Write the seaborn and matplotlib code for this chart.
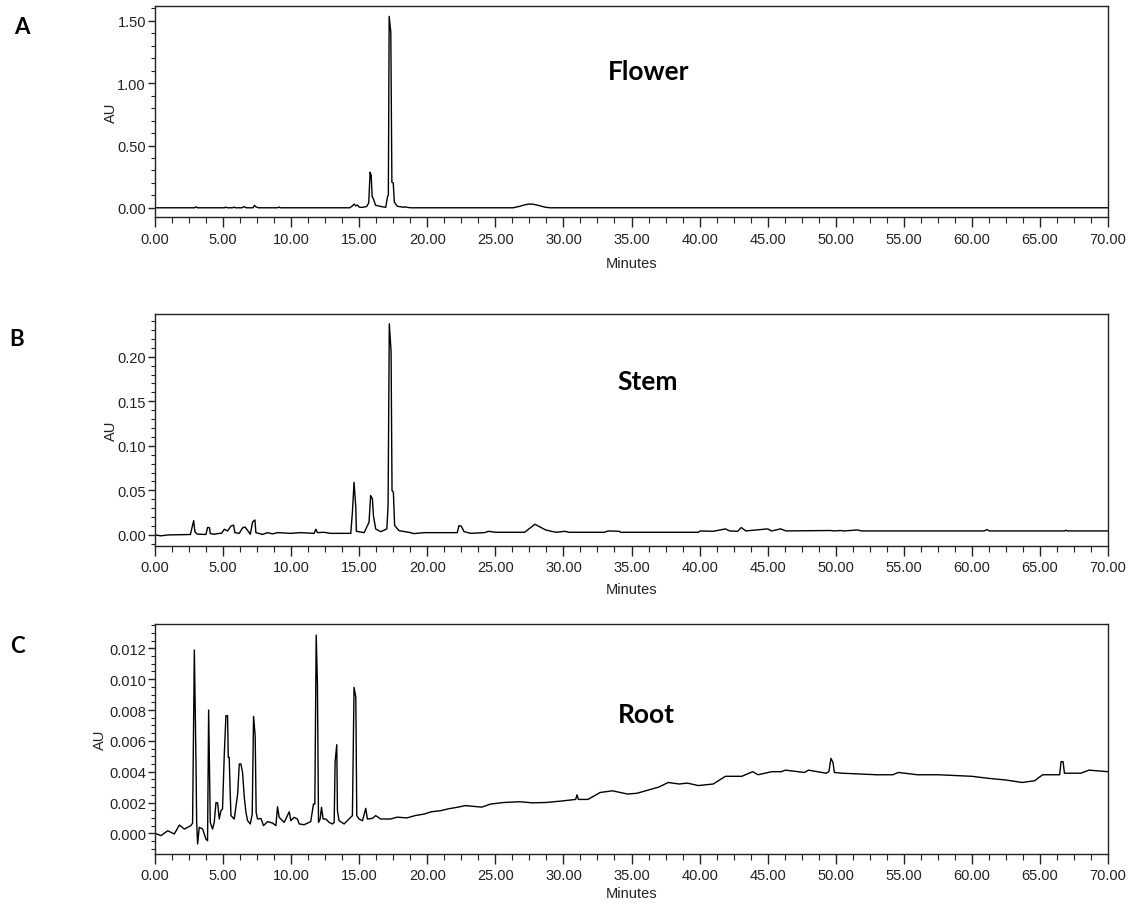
import matplotlib
matplotlib.use("Agg")
import matplotlib.pyplot as plt
from matplotlib.ticker import MultipleLocator, FormatStrFormatter
import seaborn as sns
import pandas as pd

# ---------------- data: (minutes, AU) ----------------
flower = [(0.0, 0.0), (2.9, 0.0), (3.0, 0.008), (3.1, 0.0), (5.1, 0.0), (5.2, 0.006), (5.3, 0.0),
          (5.7, 0.0), (5.8, 0.006), (5.9, 0.0), (6.4, 0.0), (6.55, 0.01), (6.7, 0.0), (7.2, 0.0),
          (7.3, 0.019), (7.4, 0.008), (7.6, 0.0), (9.0, 0.0), (9.1, 0.006), (9.2, 0.0), (14.3, 0.0),
          (14.5, 0.015), (14.63, 0.03), (14.75, 0.015), (14.87, 0.022), (15.0, 0.005), (15.2, 0.003),
          (15.55, 0.01), (15.7, 0.04), (15.8, 0.286), (15.88, 0.26), (15.95, 0.09), (16.05, 0.07),
          (16.2, 0.02), (16.6, 0.01), (16.95, 0.004), (17.08, 0.09), (17.14, 0.1), (17.2, 1.537),
          (17.32, 1.409), (17.4, 0.205), (17.5, 0.2), (17.58, 0.045), (17.8, 0.012), (18.3, 0.004),
          (18.4, 0.008), (18.55, 0.003), (18.8, 0.0), (26.3, 0.0), (26.8, 0.012), (27.2, 0.025),
          (27.5, 0.03), (27.8, 0.028), (28.2, 0.018), (28.6, 0.006), (29.0, 0.0), (70.0, 0.0)]

stem = [(0.0, 0.0), (0.44, -0.001), (0.93, 0.0), (2.6, 0.0005), (2.84, 0.0161), (2.93, 0.0037),
        (3.08, 0.001), (3.74, 0.0005), (3.86, 0.0083), (4.0, 0.0083), (4.06, 0.0015), (4.35, 0.0008),
        (4.6, 0.0015), (4.9, 0.002), (5.09, 0.0064), (5.33, 0.0045), (5.58, 0.010), (5.77, 0.011),
        (5.87, 0.0026), (6.19, 0.0018), (6.43, 0.0079), (6.6, 0.009), (6.8, 0.0052), (7.0, 0.0008),
        (7.17, 0.0146), (7.34, 0.0168), (7.41, 0.0026), (7.9, 0.0006), (8.27, 0.0026), (8.63, 0.0012),
        (9.0, 0.0026), (9.98, 0.0018), (10.7, 0.0026), (11.69, 0.0018), (11.81, 0.0064), (11.93, 0.0026),
        (12.4, 0.003), (12.9, 0.0018), (14.38, 0.0018), (14.5, 0.0255), (14.62, 0.0591), (14.75, 0.031),
        (14.79, 0.0041), (15.36, 0.0026), (15.72, 0.0142), (15.84, 0.0442), (15.97, 0.0405),
        (16.04, 0.0221), (16.21, 0.0067), (16.58, 0.0037), (17.03, 0.0067), (17.12, 0.033),
        (17.21, 0.237), (17.34, 0.206), (17.41, 0.0498), (17.51, 0.048), (17.6, 0.0106),
        (17.93, 0.0048), (18.78, 0.0026), (19.02, 0.0015), (19.76, 0.0026), (22.2, 0.0026),
        (22.33, 0.0105), (22.5, 0.0098), (22.7, 0.0037), (23.2, 0.0018), (24.2, 0.0026),
        (24.5, 0.0041), (25.0, 0.003), (27.15, 0.003), (27.9, 0.012), (28.7, 0.0056), (29.45, 0.003),
        (30.1, 0.0041), (30.4, 0.003), (33.0, 0.003), (33.3, 0.0045), (34.1, 0.0041), (34.2, 0.003),
        (39.9, 0.003), (40.05, 0.0045), (41.0, 0.0041), (41.9, 0.0068), (42.2, 0.0045), (42.8, 0.0041),
        (43.06, 0.0083), (43.4, 0.0045), (45.0, 0.0068), (45.3, 0.0045), (45.95, 0.0068),
        (46.35, 0.0045), (49.6, 0.005), (49.9, 0.0045), (50.35, 0.005), (50.6, 0.0045), (51.6, 0.0056),
        (51.9, 0.0045), (60.9, 0.0045), (61.1, 0.006), (61.3, 0.0045), (66.8, 0.0045), (66.9, 0.0053),
        (67.0, 0.0045), (70.0, 0.0045)]

root = [(0.0, 0.0), (0.44, -0.00015), (0.93, 0.00017), (1.42, -0.00004), (1.79, 0.00054),
        (2.15, 0.00028), (2.4, 0.00039), (2.64, 0.0005), (2.76, 0.00067), (2.89, 0.0119),
        (3.01, 0.00465), (3.06, 0.00071), (3.13, -0.00069), (3.25, 0.00039), (3.5, 0.00028),
        (3.74, -0.00037), (3.86, -0.00048), (3.94, 0.0080), (4.06, 0.00071), (4.23, 0.00028),
        (4.35, 0.00071), (4.48, 0.002), (4.6, 0.00197), (4.72, 0.00093), (4.84, 0.00147),
        (4.96, 0.00158), (5.09, 0.00515), (5.21, 0.00763), (5.33, 0.00763), (5.38, 0.00493),
        (5.45, 0.00493), (5.53, 0.00244), (5.58, 0.00115), (5.82, 0.00093), (6.07, 0.00255),
        (6.19, 0.0045), (6.31, 0.0045), (6.43, 0.00396), (6.56, 0.00233), (6.68, 0.00136),
        (6.8, 0.00082), (7.0, 0.00061), (7.14, 0.00125), (7.24, 0.00759), (7.36, 0.00629),
        (7.43, 0.00136), (7.53, 0.00093), (7.78, 0.00097), (7.97, 0.0005), (8.27, 0.00076),
        (8.63, 0.00067), (8.88, 0.0005), (9.0, 0.00173), (9.12, 0.00104), (9.49, 0.00071),
        (9.86, 0.0014), (9.98, 0.00082), (10.22, 0.00104), (10.46, 0.00093), (10.59, 0.00061),
        (10.95, 0.00056), (11.44, 0.00076), (11.64, 0.0019), (11.74, 0.0019), (11.84, 0.01286),
        (11.93, 0.00969), (12.01, 0.00071), (12.13, 0.00093), (12.23, 0.00169), (12.35, 0.00093),
        (12.55, 0.00093), (12.79, 0.00071), (13.04, 0.00061), (13.16, 0.00071), (13.23, 0.00465),
        (13.35, 0.00575), (13.4, 0.00147), (13.52, 0.00082), (13.89, 0.00061), (14.13, 0.00082),
        (14.5, 0.00115), (14.62, 0.00947), (14.75, 0.00882), (14.82, 0.00115), (14.99, 0.00093),
        (15.24, 0.00082), (15.48, 0.00162), (15.6, 0.00093), (15.97, 0.00097), (16.21, 0.00115),
        (16.58, 0.00093), (17.3, 0.00093), (17.8, 0.00105), (18.5, 0.001), (19.1, 0.00115),
        (19.76, 0.00125), (20.3, 0.0014), (20.98, 0.00147), (21.6, 0.0016), (22.2, 0.00169),
        (22.8, 0.0018), (23.43, 0.00175), (24.0, 0.0017), (24.65, 0.0019), (25.6, 0.002),
        (26.8, 0.00205), (27.7, 0.00198), (28.7, 0.002), (29.9, 0.0021), (30.9, 0.0022),
        (31.0, 0.0025), (31.1, 0.0022), (31.8, 0.0022), (32.7, 0.00265), (33.6, 0.00276),
        (34.7, 0.00255), (35.4, 0.0026), (36.05, 0.00276), (37.0, 0.003), (37.7, 0.0033),
        (38.5, 0.0032), (39.1, 0.00326), (39.9, 0.0031), (41.0, 0.0032), (41.9, 0.0037),
        (43.1, 0.0037), (43.9, 0.004), (44.3, 0.0038), (45.3, 0.004), (46.0, 0.004), (46.3, 0.0041),
        (47.7, 0.00395), (48.0, 0.0041), (49.3, 0.0039), (49.5, 0.0040), (49.65, 0.00486),
        (49.8, 0.0046), (49.9, 0.00395), (50.5, 0.0039), (53.0, 0.0038), (54.2, 0.0038),
        (54.6, 0.00395), (56.0, 0.0038), (57.55, 0.0038), (60.0, 0.0037), (61.2, 0.00357),
        (62.5, 0.00346), (63.7, 0.0033), (64.6, 0.00341), (65.2, 0.0038), (66.45, 0.0038),
        (66.55, 0.00465), (66.7, 0.00465), (66.8, 0.0039), (68.0, 0.0039), (68.6, 0.0041),
        (70.0, 0.004)]

panel_letters = ["A", "B", "C"]
panel_titles = ["Flower", "Stem", "Root"]
x_label = "Minutes"
y_label = "AU"

# ---------------- style ----------------
sns.set_style("ticks")
tick_font = ["Liberation Sans", "DejaVu Sans"]
plt.rcParams["font.family"] = tick_font
title_font = ["Lato", "Open Sans", "DejaVu Sans"]

W, H = 1137, 904
fig = plt.figure(figsize=(W / 100, H / 100), dpi=100)

# axes frames in pixels: (left, top, right, bottom)
frames = [(155, 7, 1108, 218), (155, 315, 1108, 547), (155, 625, 1108, 855)]
ylims = [(-0.074, 1.62), (-0.0124, 0.248), (-0.00134, 0.01358)]
ymaj = [0.5, 0.05, 0.002]
ymin = [0.1, 0.01, 0.0005]
yfmt = ["%.2f", "%.2f", "%.3f"]
ylab_x = [-0.039, -0.039, -0.050]
xlab_pad = [7, 6, 3]
xtick_pad = [4, 3, 3]
title_pos = [(0.518, 0.692), (0.517, 0.711), (0.516, 0.609)]
letter_pos = [(22, 28), (17, 339), (17, 647)]

datasets = [flower, stem, root]

for i, data in enumerate(datasets):
    l, t, r, b = frames[i]
    ax = fig.add_axes([l / W, 1 - b / H, (r - l) / W, (b - t) / H])
    df = pd.DataFrame(data, columns=["Minutes", "AU"])
    sns.lineplot(data=df, x="Minutes", y="AU", ax=ax, color="black", linewidth=1.0,
                 estimator=None, sort=False)
    ax.set_xlim(0, 70)
    ax.set_ylim(*ylims[i])
    ax.xaxis.set_major_locator(MultipleLocator(5))
    ax.xaxis.set_minor_locator(MultipleLocator(1.25))
    ax.xaxis.set_major_formatter(FormatStrFormatter("%.2f"))
    ax.yaxis.set_major_locator(MultipleLocator(ymaj[i]))
    ax.yaxis.set_minor_locator(MultipleLocator(ymin[i]))
    ax.yaxis.set_major_formatter(FormatStrFormatter(yfmt[i]))
    for s in ax.spines.values():
        s.set_visible(True)
        s.set_color("#222222")
        s.set_linewidth(1.0)
    ax.tick_params(axis="both", which="major", direction="out", length=5, width=1,
                   colors="#222222", labelsize=10.5, pad=1.5)
    ax.tick_params(axis="both", which="minor", direction="out", length=3, width=0.8,
                   colors="#222222")
    ax.tick_params(axis="x", which="major", length=7, pad=xtick_pad[i])
    ax.tick_params(axis="x", which="minor", length=4)
    ax.set_xlabel(x_label, fontsize=10.5, color="#222222", labelpad=xlab_pad[i])
    ax.set_ylabel(y_label, fontsize=10.5, color="#222222")
    ax.yaxis.set_label_coords(ylab_x[i], 0.5)
    ax.text(title_pos[i][0], title_pos[i][1], panel_titles[i], transform=ax.transAxes,
            ha="center", va="center", fontsize=19, fontweight="bold", family=title_font,
            color="black")
    fig.text(letter_pos[i][0] / W, 1 - letter_pos[i][1] / H, panel_letters[i],
             ha="center", va="center", fontsize=16, fontweight="bold", family=title_font,
             color="black")

fig.savefig("out.png", dpi=100, facecolor="white")
